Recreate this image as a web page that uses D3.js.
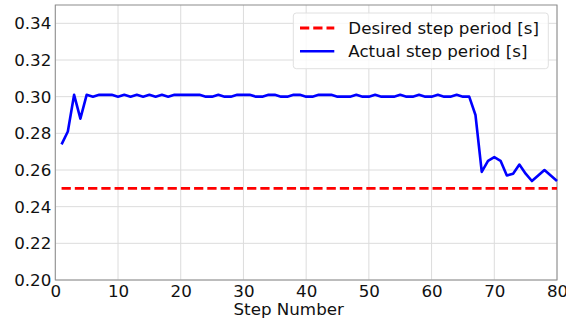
<!DOCTYPE html>
<html><head><meta charset="utf-8">
<script src="https://cdn.jsdelivr.net/npm/d3@7"></script>
<style>body{margin:0;background:#fff;}svg{display:block;font-family:"DejaVu Sans";}</style>
</head><body>
<svg id="c" width="566" height="321"></svg>
<script>
const steps = d3.range(1, 81);
const actual = [0.274,0.281,0.301,0.288,0.301,0.300,0.301,0.301,0.301,0.300,
0.301,0.300,0.301,0.300,0.301,0.300,0.301,0.300,0.301,0.301,
0.301,0.301,0.301,0.300,0.300,0.301,0.300,0.300,0.301,0.301,
0.301,0.300,0.300,0.301,0.301,0.300,0.300,0.301,0.301,0.300,
0.300,0.301,0.301,0.301,0.300,0.300,0.300,0.301,0.300,0.300,
0.301,0.300,0.300,0.300,0.301,0.300,0.300,0.301,0.300,0.300,
0.301,0.300,0.300,0.301,0.300,0.300,0.290,0.259,0.265,0.267,
0.265,0.257,0.258,0.263,0.258,0.254,0.257,0.260,0.257,0.254];
const desired = steps.map(() => 0.25);
const xTicks = [0,10,20,30,40,50,60,70,80];
const yTicks = [0.20,0.22,0.24,0.26,0.28,0.30,0.32,0.34];
const seriesNames = ["Desired step period [s]", "Actual step period [s]"];
const xLabel = "Step Number";

const svg = d3.select("#c");
const m = {l:55.3, t:5, r:566-557, b:321-280};
const W = 566 - m.l - m.r, H = 321 - m.t - m.b;
const x = d3.scaleLinear().domain([0,80]).range([m.l, m.l+W]);
const y = d3.scaleLinear().domain([0.20,0.35]).range([m.t+H, m.t]);

svg.append("g").selectAll("line").data(xTicks).join("line")
  .attr("x1", d=>x(d)).attr("x2", d=>x(d)).attr("y1", m.t).attr("y2", m.t+H)
  .attr("stroke", "#dcdcdc").attr("stroke-width", 1);
svg.append("g").selectAll("line").data(yTicks).join("line")
  .attr("x1", m.l).attr("x2", m.l+W).attr("y1", d=>y(d)).attr("y2", d=>y(d))
  .attr("stroke", "#dcdcdc").attr("stroke-width", 1);

const fs = 16.7;
const ff = "'DejaVu Sans'";
const xa = svg.append("g").attr("transform", `translate(0,${m.t+H})`)
  .call(d3.axisBottom(x).tickValues(xTicks).tickSize(0).tickPadding(5).tickFormat(d3.format("d")));
const ya = svg.append("g").attr("transform", `translate(${m.l},0)`)
  .call(d3.axisLeft(y).tickValues(yTicks).tickSize(0).tickPadding(4).tickFormat(d3.format(".2f")));
[xa, ya].forEach(a => {
  a.attr("font-family", null).attr("font-size", null);
  a.select(".domain").remove();
  a.selectAll("text").style("font-size", fs+"px").style("font-family", ff).attr("fill", "#111");
});

svg.append("rect").attr("x", m.l).attr("y", m.t).attr("width", W).attr("height", H)
  .attr("fill", "none").attr("stroke", "#8c8c8c").attr("stroke-width", 1);

const line = d3.line().x((d,i)=>x(steps[i])).y(d=>y(d));
svg.append("path").datum(desired).attr("d", line).attr("fill","none")
  .attr("stroke", "#ff0000").attr("stroke-width", 2.8).attr("stroke-dasharray", "9.25,4");
svg.append("path").datum(actual).attr("d", line).attr("fill","none")
  .attr("stroke", "#0000ff").attr("stroke-width", 2.6).attr("stroke-linejoin","round");

svg.append("text").attr("x", 288.7).attr("y", 315).attr("text-anchor","middle")
  .style("font-size", fs+"px").style("font-family", ff).attr("fill","#111").text(xLabel);

const lg = svg.append("g");
lg.append("rect").attr("x", 293.3).attr("y", 13).attr("width", 255).attr("height", 55.7)
  .attr("rx", 3).attr("fill", "#fff").attr("fill-opacity", 0.8).attr("stroke", "#e0e0e0");
const ly = [28, 51.3];
const colors = ["#ff0000", "#0000ff"];
seriesNames.forEach((n,i) => {
  lg.append("line").attr("x1", 300).attr("x2", 334.3).attr("y1", ly[i]).attr("y2", ly[i])
    .attr("stroke", colors[i]).attr("stroke-width", i===0?2.8:2.6)
    .attr("stroke-dasharray", i===0 ? "9.25,4" : null);
  lg.append("text").attr("x", 348.3).attr("y", ly[i]).attr("dy", "0.35em")
    .style("font-size", fs+"px").style("font-family", ff).attr("fill", "#111").text(n);
});
</script>
</body></html>
